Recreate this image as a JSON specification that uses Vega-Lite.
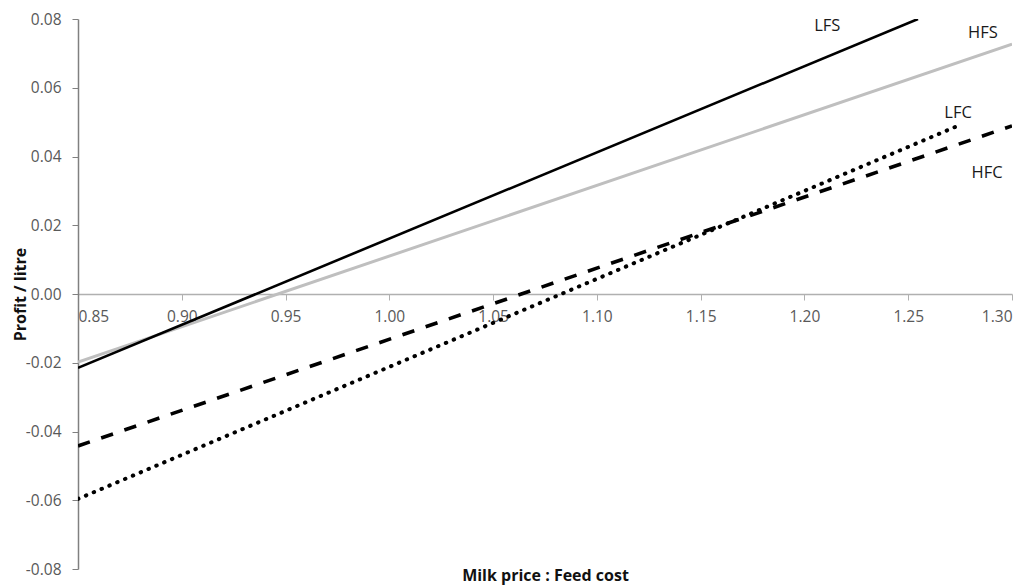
{
  "$schema": "https://vega.github.io/schema/vega-lite/v6.json",
  "width": 934,
  "height": 550,
  "autosize": {"type": "none"},
  "padding": {"left": 78, "top": 19, "right": 20, "bottom": 18},
  "background": "white",
  "config": {
    "view": {"stroke": null},
    "font": "Open Sans"
  },
  "datasets": {
    "lines": [
      {"series": "LFS", "ratio": 0.85, "profit": -0.0215},
      {"series": "LFS", "ratio": 1.2547, "profit": 0.08},
      {"series": "HFS", "ratio": 0.85, "profit": -0.0198},
      {"series": "HFS", "ratio": 1.30, "profit": 0.0727},
      {"series": "LFC", "ratio": 0.85, "profit": -0.0596},
      {"series": "LFC", "ratio": 1.275, "profit": 0.0492},
      {"series": "HFC", "ratio": 0.85, "profit": -0.0442},
      {"series": "HFC", "ratio": 1.30, "profit": 0.0489}
    ],
    "labels": [
      {"label": "LFS", "ratio": 1.211, "profit": 0.078},
      {"label": "HFS", "ratio": 1.286, "profit": 0.076},
      {"label": "LFC", "ratio": 1.274, "profit": 0.0527},
      {"label": "HFC", "ratio": 1.288, "profit": 0.0352}
    ]
  },
  "layer": [
    {
      "data": {"name": "lines"},
      "transform": [{"filter": "datum.series === 'HFS'"}],
      "mark": {"type": "line", "clip": true, "strokeWidth": 3, "color": "#bfbfbf"},
      "encoding": {
        "x": {
          "field": "ratio", "type": "quantitative",
          "scale": {"domain": [0.85, 1.30], "nice": false, "zero": false},
          "axis": {
            "title": "Milk price : Feed cost",
            "values": [0.85, 0.9, 0.95, 1.0, 1.05, 1.1, 1.15, 1.2, 1.25, 1.3],
            "format": ".2f",
            "offset": -275,
            "grid": false,
            "domainColor": "#b0b0b0",
            "domainWidth": 1.3,
            "tickColor": "#b0b0b0",
            "tickSize": 6,
            "labelPadding": 9,
            "labelFontSize": 15.5,
            "labelColor": "#595959",
            "labelFont": "Open Sans",
            "titleFont": "Open Sans",
            "titleFontSize": 16,
            "titleFontWeight": "bold",
            "titleColor": "#111111",
            "titleBaseline": "alphabetic",
            "titleY": 286
          }
        },
        "y": {
          "field": "profit", "type": "quantitative",
          "scale": {"domain": [-0.08, 0.08], "nice": false, "zero": false},
          "axis": {
            "title": "Profit / litre",
            "values": [-0.08, -0.06, -0.04, -0.02, 0, 0.02, 0.04, 0.06, 0.08],
            "labelExpr": "replace(format(datum.value, '.2f'), '\u2212', '-')",
            "grid": false,
            "domainColor": "#808080",
            "domainWidth": 1.5,
            "tickColor": "#808080",
            "tickSize": 6,
            "labelPadding": 11,
            "labelFontSize": 15.5,
            "labelColor": "#595959",
            "labelFont": "Open Sans",
            "titleFont": "Open Sans",
            "titleFontSize": 16,
            "titleFontWeight": "bold",
            "titleColor": "#111111",
            "titleX": -50,
            "titleY": 275,
            "titleAnchor": null
          }
        }
      }
    },
    {
      "data": {"name": "lines"},
      "transform": [{"filter": "datum.series === 'LFS'"}],
      "mark": {"type": "line", "clip": true, "strokeWidth": 2.6, "color": "#000000"},
      "encoding": {
        "x": {"field": "ratio", "type": "quantitative"},
        "y": {"field": "profit", "type": "quantitative"}
      }
    },
    {
      "data": {"name": "lines"},
      "transform": [{"filter": "datum.series === 'HFC'"}],
      "mark": {"type": "line", "clip": true, "strokeWidth": 3.6, "strokeDash": [12.5, 12], "color": "#000000"},
      "encoding": {
        "x": {"field": "ratio", "type": "quantitative"},
        "y": {"field": "profit", "type": "quantitative"}
      }
    },
    {
      "data": {"name": "lines"},
      "transform": [{"filter": "datum.series === 'LFC'"}],
      "mark": {"type": "line", "clip": true, "strokeCap": "round", "strokeWidth": 4, "strokeDash": [0.5, 8], "color": "#000000"},
      "encoding": {
        "x": {"field": "ratio", "type": "quantitative"},
        "y": {"field": "profit", "type": "quantitative"}
      }
    },
    {
      "data": {"name": "labels"},
      "mark": {"type": "text", "font": "Open Sans", "fontSize": 16.5, "color": "#1a1a1a", "align": "center", "baseline": "middle"},
      "encoding": {
        "x": {"field": "ratio", "type": "quantitative"},
        "y": {"field": "profit", "type": "quantitative"},
        "text": {"field": "label", "type": "nominal"}
      }
    }
  ]
}
